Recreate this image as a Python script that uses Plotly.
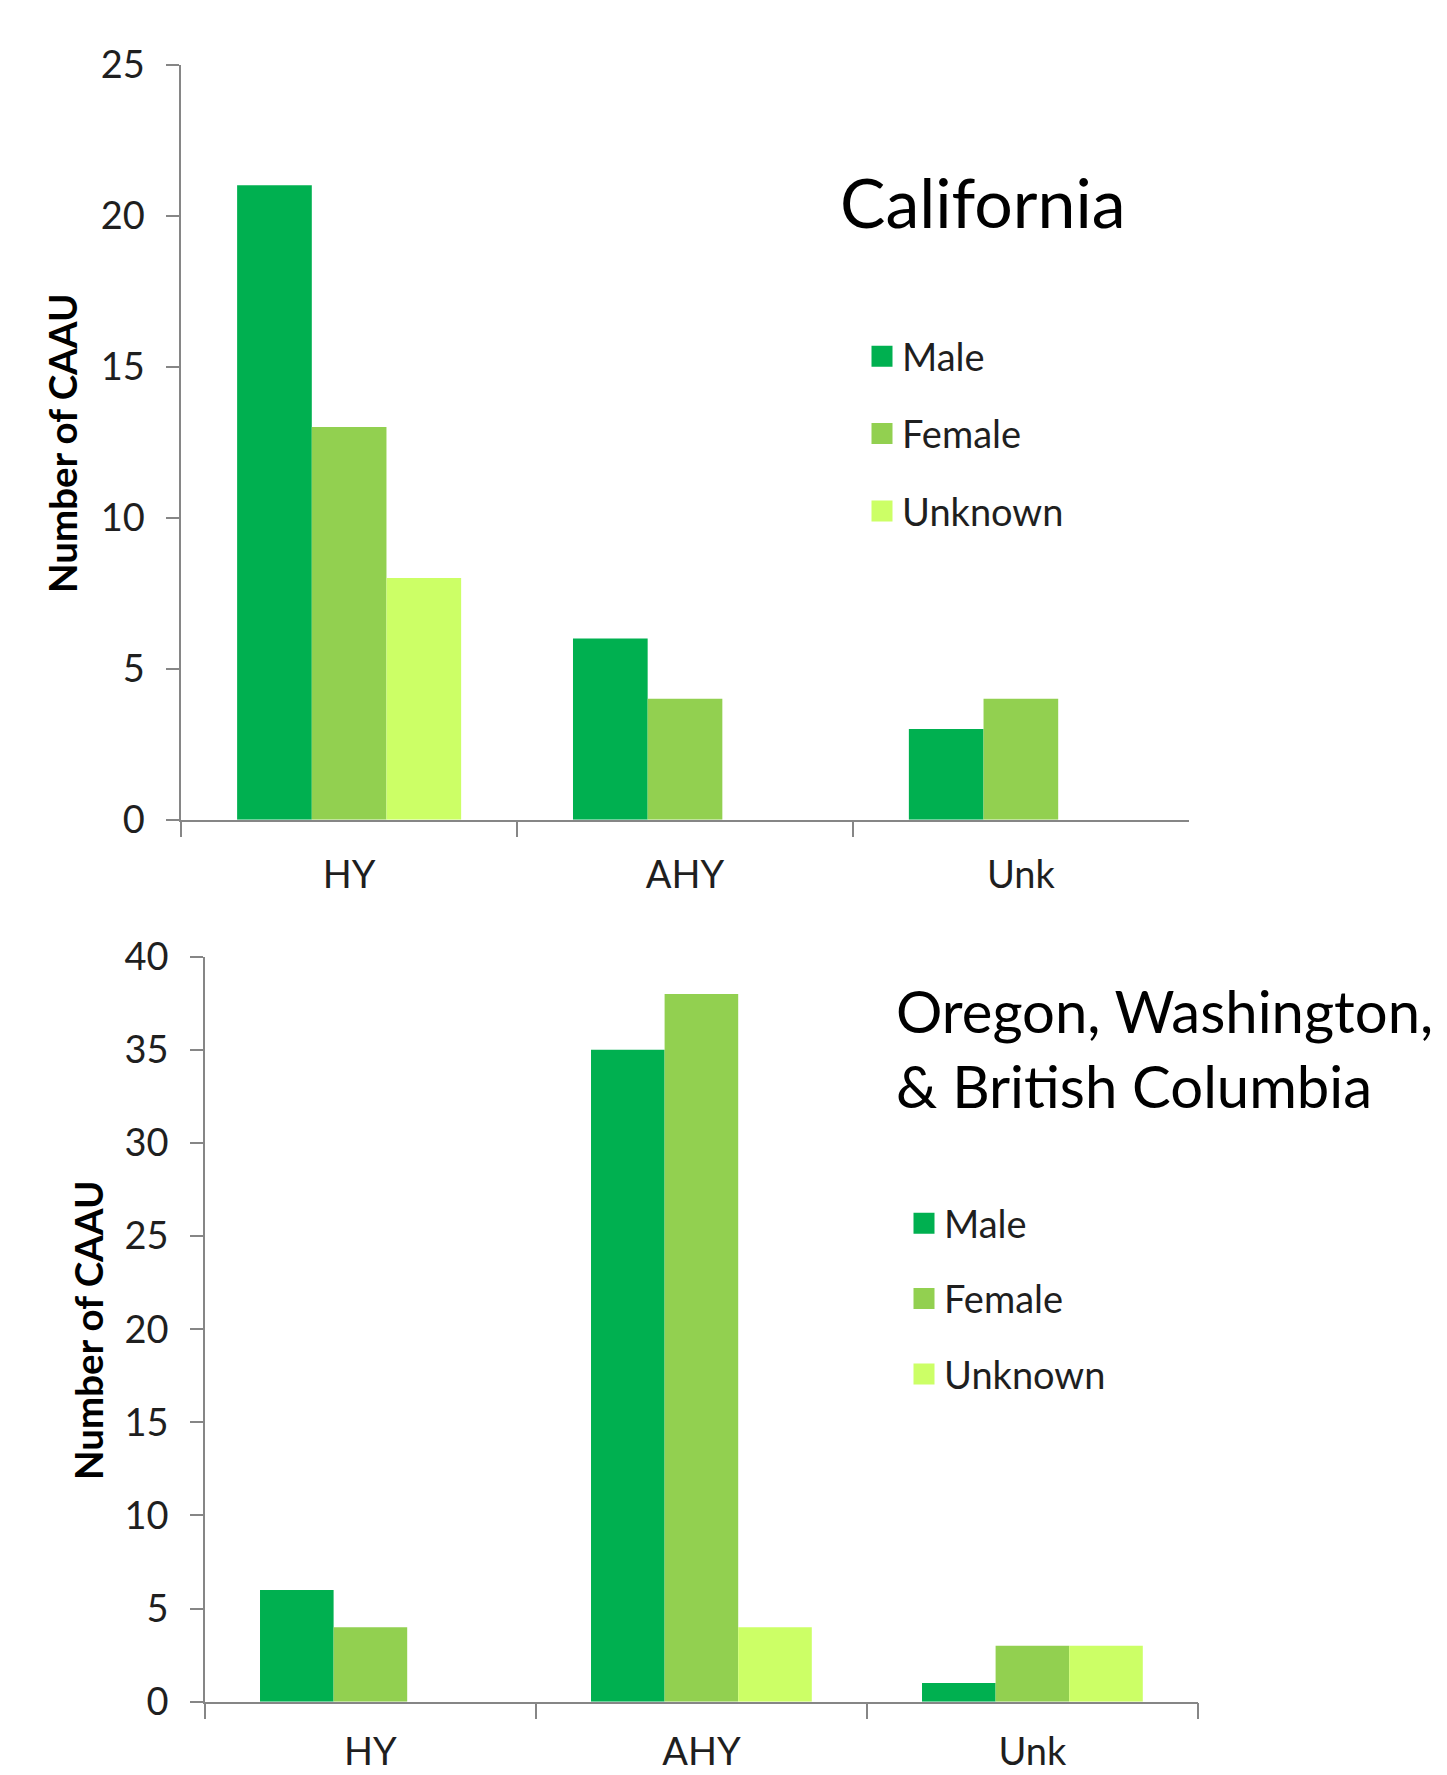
import plotly.graph_objects as go

# Age classes on the x axis
age_classes = ["HY", "AHY", "Unk"]

# Counts of CAAU by sex, California
ca_male = [21, 6, 3]
ca_female = [13, 4, 4]
ca_unknown = [8, 0, 0]

# Counts of CAAU by sex, Oregon / Washington / British Columbia
nw_male = [6, 35, 1]
nw_female = [4, 38, 3]
nw_unknown = [0, 4, 3]

sex_names = ["Male", "Female", "Unknown"]
sex_colors = ["#00B050", "#92D050", "#CCFF66"]

W, H = 1447, 1775
FONT = "Lato"
TEXT = "#1f1f1f"
AXIS = "#868686"


def px_x(v):
    return v / W


def px_y(v):
    return 1 - v / H


fig = go.Figure()

panels = [
    ("x", "y", [ca_male, ca_female, ca_unknown], "legend"),
    ("x2", "y2", [nw_male, nw_female, nw_unknown], "legend2"),
]

for xa, ya, series, leg in panels:
    for name, color, vals in zip(sex_names, sex_colors, series):
        fig.add_trace(go.Bar(
            x=age_classes, y=vals, name=name, xaxis=xa, yaxis=ya,
            marker=dict(color=color, line=dict(width=0)),
            showlegend=False, hoverinfo="x+y+name",
        ))
    # legend-only square swatches
    for name, color in zip(sex_names, sex_colors):
        fig.add_trace(go.Scatter(
            x=[None], y=[None], name=name, xaxis=xa, yaxis=ya,
            mode="markers", legend=leg, legendgroup=leg + name,
            marker=dict(symbol="square", size=16, color=color,
                        line=dict(color=color, width=5)),
            showlegend=True,
        ))

# plot-area pixel boxes (left, right, top, bottom)
top_box = (181.2, 1188.8, 64.5, 819.7)
bot_box = (204.9, 1197.9, 956.7, 1701.7)

common_x = dict(
    type="category", range=[-0.5, 2.5], showline=True, linecolor=AXIS,
    linewidth=1.5, ticks="outside", tickcolor=AXIS, ticklen=16, tickwidth=1.5,
    tickson="boundaries", showgrid=False, zeroline=False, automargin=False,
    tickfont=dict(family=FONT, size=38, color=TEXT), ticklabelstandoff=21,
    fixedrange=True,
)
common_y = dict(
    showline=True, linecolor=AXIS, linewidth=1.5, ticks="outside",
    tickcolor=AXIS, ticklen=13, tickwidth=1.5, showgrid=False,
    zeroline=False, automargin=False, dtick=5,
    tickfont=dict(family=FONT, size=38, color=TEXT), ticklabelstandoff=14,
    fixedrange=True,
)

legend_common = dict(
    xanchor="left", yanchor="top",
    font=dict(family=FONT, size=38, color=TEXT),
    bgcolor="rgba(0,0,0,0)", itemwidth=30, traceorder="grouped",
)

fig.update_layout(
    width=W, height=H,
    margin=dict(l=0, r=0, t=0, b=0),
    paper_bgcolor="white", plot_bgcolor="white",
    template="none",
    barmode="group", bargap=0.333, bargroupgap=0,
    font=dict(family=FONT, color=TEXT),
    xaxis=dict(common_x, domain=[px_x(top_box[0]), px_x(top_box[1])], anchor="y"),
    yaxis=dict(common_y, domain=[px_y(top_box[3]), px_y(top_box[2])],
               range=[0, 25], anchor="x"),
    xaxis2=dict(common_x, domain=[px_x(bot_box[0]), px_x(bot_box[1])],
                anchor="y2", ticklabelstandoff=16),
    yaxis2=dict(common_y, domain=[px_y(bot_box[3]), px_y(bot_box[2])],
                range=[0, 40], anchor="x2"),
    legend=dict(legend_common, x=px_x(862), y=px_y(325), tracegroupgap=25),
    legend2=dict(legend_common, x=px_x(904), y=px_y(1192), tracegroupgap=23),
    annotations=[
        dict(text="California", x=px_x(838), y=px_y(201.5), xref="paper",
             yref="paper", xanchor="left", yanchor="middle", showarrow=False,
             font=dict(family=FONT, size=68, color="black")),
        dict(text="Oregon, Washington,<br>& British Columbia", x=px_x(894),
             y=px_y(1048), xref="paper", yref="paper", xanchor="left",
             yanchor="middle", align="left", showarrow=False,
             font=dict(family=FONT, size=58, color="black")),
        dict(text="<b>Number of CAAU</b>", x=px_x(62), y=px_y(444),
             xref="paper", yref="paper", xanchor="center", yanchor="middle",
             textangle=-90, showarrow=False,
             font=dict(family=FONT, size=38.5, color="black")),
        dict(text="<b>Number of CAAU</b>", x=px_x(88), y=px_y(1331),
             xref="paper", yref="paper", xanchor="center", yanchor="middle",
             textangle=-90, showarrow=False,
             font=dict(family=FONT, size=38.5, color="black")),
    ],
)

fig.write_html("out.html")
